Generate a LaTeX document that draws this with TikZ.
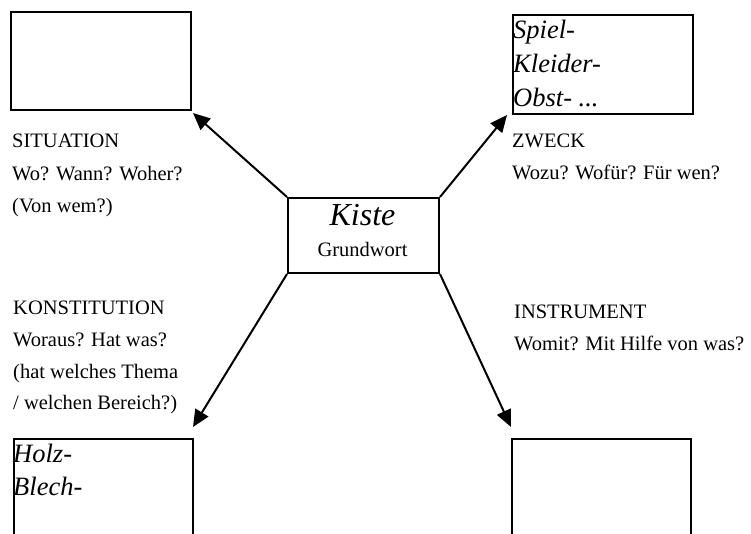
\documentclass[tikz,border=0pt]{standalone}
\usepackage{fontspec}
\setmainfont{Liberation Serif}
\usetikzlibrary{arrows.meta}
\begin{document}
\begin{tikzpicture}[x=1pt,y=-1pt,
  box/.style={draw,line width=2pt,inner sep=0pt,anchor=north west},
  lbl/.style={inner sep=0pt,anchor=base west,font=\fontsize{20.5}{24}\selectfont},
  itl/.style={inner sep=0pt,anchor=base west,font=\fontsize{26.5}{30}\selectfont\itshape},
  arr/.style={line width=2pt,-{Triangle[length=17pt,width=15pt]}}]
\useasboundingbox (0,0) rectangle (751,533);
% boxes
\node[box,minimum width=180pt,minimum height=98pt] (tl) at (10,11) {};
\node[box,minimum width=180pt,minimum height=99pt] (tr) at (512,14) {};
\node[box,minimum width=151pt,minimum height=75pt] (c) at (287,197) {};
\node[box,minimum width=179pt,minimum height=110pt] (bl) at (13,438) {};
\node[box,minimum width=179pt,minimum height=110pt] (br) at (511,438) {};
% centre text
\node[inner sep=0pt,anchor=base,font=\fontsize{32}{36}\selectfont\itshape] (kiste) at (362.5,225) {Kiste};
\node[inner sep=0pt,anchor=base,font=\fontsize{20.5}{24}\selectfont] (gw) at (362.5,256) {Grundwort};
% box contents
\node[itl] (s1) at (513,38) {Spiel-};
\node[itl] (s2) at (513,72) {Kleider-};
\node[itl] (s3) at (513,106) {Obst- ...};
\node[itl] (h1) at (13,462) {Holz-};
\node[itl] (h2) at (13,495) {Blech-};
% labels
\node[lbl] (sit1) at (12,147) {SITUATION};
\node[lbl] (sit2) at (12,180) {Wo? Wann? Woher?};
\node[lbl] (sit3) at (12,212) {(Von wem?)};
\node[lbl] (zw1) at (512,147) {ZWECK};
\node[lbl] (zw2) at (512,179) {Wozu? Wofür? Für wen?};
\node[lbl] (ko1) at (13,314) {KONSTITUTION};
\node[lbl] (ko2) at (13,346) {Woraus? Hat was?};
\node[lbl] (ko3) at (13,378) {(hat welches Thema};
\node[lbl] (ko4) at (13,409) {/ welchen Bereich?)};
\node[lbl] (in1) at (514,318) {INSTRUMENT};
\node[lbl] (in2) at (514,350) {Womit? Mit Hilfe von was?};
% arrow tips
\coordinate (ttl) at (193,113);
\coordinate (ttr) at (507,115);
\coordinate (tbl) at (193,427);
\coordinate (tbr) at (511,427);
\draw[arr] (c.north west) -- (ttl);
\draw[arr] (c.north east) -- (ttr);
\draw[arr] (c.south west) -- (tbl);
\draw[arr] (c.south east) -- (tbr);
\end{tikzpicture}
\end{document}
